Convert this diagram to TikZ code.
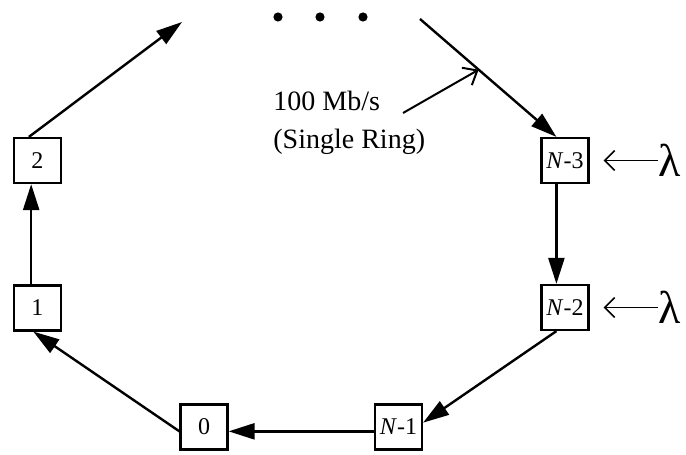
\documentclass[tikz,border=0pt]{standalone}
\usepackage{fontspec}
\setmainfont{Liberation Serif}
\usetikzlibrary{arrows.meta, positioning, calc}
\tikzset{
  stn/.style={draw, line width=1.1pt, minimum width=23.5pt, minimum height=22.5pt, inner sep=0pt, font=\fontsize{12}{12}\selectfont},
  ring/.style={line width=1.2pt, -{Triangle[length=13pt,width=8pt]}},
  lam/.style={inner sep=0pt, font=\fontsize{23}{23}\selectfont},
  feed/.style={line width=0.8pt, -{Straight Barb[length=5pt,width=10pt]}, shorten >=7pt},
  ptr/.style={line width=1pt, -{Straight Barb[length=6pt,width=10pt]}},
}

\begin{document}
\begin{tikzpicture}[x=0.5pt,y=-0.5pt]
  \useasboundingbox (0,0) rectangle (686,455);
  % stations
  \node[stn] (s2) at (37.5,160.5) {2};
  \node[stn] (s1) at (37.5,308) {1};
  \node[stn] (s0) at (204,427) {0};
  \node[stn] (sN1) at (398.5,427) {\textit{N}-1};
  \node[stn] (sN2) at (565,307.5) {\textit{N}-2};
  \node[stn] (sN3) at (565,160.5) {\textit{N}-3};
  % open ends of the ring
  \coordinate (up) at (182,22);
  \coordinate (down) at (420,19);
  \foreach \x in {278,320,363}
    \fill (\x,17) circle (2.3pt);
  % ring
  \draw[ring] (down) -- (sN3.110);
  \draw[ring] (sN3.250) -- (sN2.110);
  \draw[ring] (sN2.250) -- (sN1.10);
  \draw[ring] (sN1.190) -- (s0.350);
  \draw[ring] (s0.190) -- (s1.260);
  \draw[ring] (s1.105) -- (s2.255);
  \draw[ring] (s2.110) -- (up);
  % arrivals
  \node[lam, right=34pt of sN3] (l3) {λ};
  \node[lam, right=34pt of sN2] (l2) {λ};
  \draw[feed] (l3) -- (sN3);
  \draw[feed] (l2) -- (sN2);
  % rate
  \node[inner sep=0pt, align=left, anchor=north west, font=\fontsize{14}{19}\selectfont] (rate) at (273,90.5) {100 Mb/s\\(Single Ring)};
  \coordinate (tail) at (403,113);
  \coordinate (tap) at ($(down)!0.43!(sN3.110)$);
  \draw[ptr] (tail) -- (tap);
\end{tikzpicture}
\end{document}
